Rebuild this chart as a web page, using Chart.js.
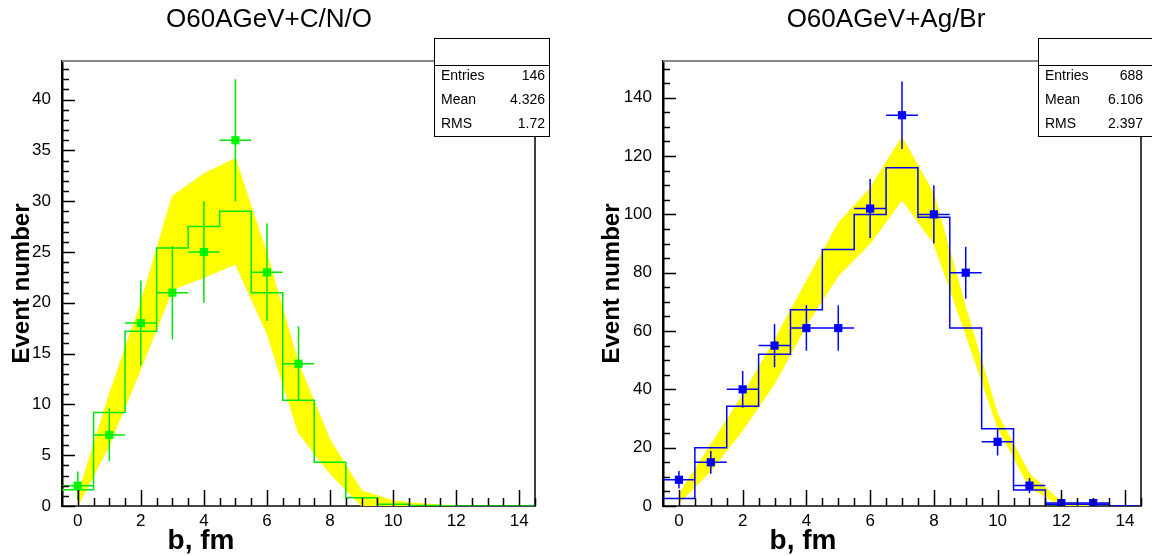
<!DOCTYPE html>
<html>
<head>
<meta charset="utf-8">
<script src="https://cdn.jsdelivr.net/npm/chart.js@4.4.0/dist/chart.umd.min.js"></script>
<style>
  body { margin: 0; background: #fff; }
  #wrap { display: flex; width: 1152px; height: 556px; }
  canvas { display: block; }
</style>
</head>
<body>
<div id="wrap">
  <canvas id="cno" width="576" height="556"></canvas>
  <canvas id="agbr" width="576" height="556"></canvas>
</div>
<script>
// impact parameter bins (fm)
const bins = [0, 1, 2, 3, 4, 5, 6, 7, 8, 9, 10, 11, 12, 13, 14];
const xTicks = [0, 2, 4, 6, 8, 10, 12, 14];

// O + C/N/O
const cnoTicks = [0, 5, 10, 15, 20, 25, 30, 35, 40];
const cnoPointB = [0, 1, 2, 3, 4, 5, 6, 7];
const cnoPoints = [2, 7, 18, 21, 25, 36, 23, 14];
const cnoErr = [1.4, 2.6, 4.2, 4.6, 5, 6, 4.8, 3.7];
const cnoHist = [1.6, 9.2, 17.2, 25.4, 27.5, 29.0, 21.0, 10.4, 4.3, 0.8, 0.17, 0.05, 0, 0, 0];
const cnoBandB = [0, 1, 2, 3, 4, 5, 6, 7, 8, 9, 10, 11, 12];
const cnoBandHi = [1, 11, 20, 30.5, 32.7, 34.2, 24.8, 14, 6.5, 1.5, 0.5, 0.2, 0];
const cnoBandLo = [0, 6, 13.5, 21.3, 22.5, 23.8, 17, 7.2, 3.2, 0, 0, 0, 0];

// O + Ag/Br
const agTicks = [0, 20, 40, 60, 80, 100, 120, 140];
const agPointB = [0, 1, 2, 3, 4, 5, 6, 7, 8, 9, 10, 11, 12, 13];
const agPoints = [9, 15, 40, 55, 61, 61, 102, 134, 100, 80, 22, 7, 1, 1];
const agErr = [3, 3.9, 6.3, 7.4, 7.8, 7.8, 10.1, 11.6, 10, 8.9, 4.7, 2.6, 1, 1];
const agHist = [2.6, 20, 34.2, 52, 67.3, 88, 100, 116, 99, 61, 26.5, 5.5, 0.6, 0.6, 0];
const agBandB = [0, 1, 2, 3, 4, 5, 6, 7, 8, 9, 10, 11, 12, 13];
const agBandHi = [4, 21, 38, 57, 77, 97, 109, 126.5, 107, 68, 31.5, 11, 1.5, 0];
const agBandLo = [1, 12, 26, 42, 62, 79, 90, 105, 90, 59, 27, 6.5, 0, 0];

const FONT = "'Liberation Sans', Arial, sans-serif";

function xy(xs, ys) {
  return xs.map((x, i) => ({ x: x, y: ys[i] }));
}

function drawPanel(id, p) {
  // bin edges for the step histogram
  const histPts = bins.map((b, i) => ({ x: b - 0.5, y: p.hist[i] }));
  histPts.push({ x: bins[bins.length - 1] + 0.5, y: p.hist[p.hist.length - 1] });

  const deco = {
    id: 'deco',
    afterDatasetsDraw(chart) {
      const ctx = chart.ctx;
      const a = chart.chartArea;
      const xs = chart.scales.x, ys = chart.scales.y;
      ctx.save();
      // error bars
      ctx.strokeStyle = p.color;
      ctx.lineWidth = 1.5;
      p.ptB.forEach((b, i) => {
        const px = xs.getPixelForValue(b), py = ys.getPixelForValue(p.pts[i]);
        ctx.beginPath();
        ctx.moveTo(px, ys.getPixelForValue(p.pts[i] - p.err[i]));
        ctx.lineTo(px, ys.getPixelForValue(p.pts[i] + p.err[i]));
        ctx.moveTo(xs.getPixelForValue(b - 0.5), py);
        ctx.lineTo(xs.getPixelForValue(b + 0.5), py);
        ctx.stroke();
      });
      // inner ticks
      ctx.strokeStyle = '#000';
      ctx.lineWidth = 1.5;
      ctx.beginPath();
      for (let v = 0; v <= ys.max + 1e-6; v += p.yMinor) {
        const y = Math.round(ys.getPixelForValue(v)) + 0.5;
        const len = p.yTicks.includes(v) ? 13 : 7;
        ctx.moveTo(a.left, y);
        ctx.lineTo(a.left + len, y);
      }
      for (let v = 0; v <= 14.5; v += 0.5) {
        const x = Math.round(xs.getPixelForValue(v)) + 0.5;
        const len = xTicks.includes(v) ? 16 : 8;
        ctx.moveTo(x, a.bottom);
        ctx.lineTo(x, a.bottom - len);
      }
      ctx.stroke();
      // frame
      ctx.strokeStyle = '#888';
      ctx.lineWidth = 2;
      ctx.beginPath();
      ctx.moveTo(a.left, a.top);
      ctx.lineTo(a.right, a.top);
      ctx.stroke();
      ctx.strokeStyle = '#000';
      ctx.lineWidth = 1.5;
      ctx.beginPath();
      ctx.moveTo(a.right, a.top);
      ctx.lineTo(a.right, a.bottom);
      ctx.stroke();
      ctx.restore();
    },
    afterDraw(chart) {
      const ctx = chart.ctx;
      const a = chart.chartArea;
      ctx.save();
      ctx.fillStyle = '#000';
      // title
      ctx.font = '26px ' + FONT;
      ctx.textAlign = 'center';
      ctx.textBaseline = 'middle';
      ctx.fillText(p.title, p.titleX, 20);
      // axis titles
      ctx.font = 'bold 28px ' + FONT;
      ctx.fillText('b, fm', p.xTitleX, 541);
      ctx.font = 'bold 24px ' + FONT;
      ctx.save();
      ctx.translate(p.yTitleX, (a.top + a.bottom) / 2);
      ctx.rotate(-Math.PI / 2);
      ctx.fillText('Event number', 0, 0);
      ctx.restore();
      // stats box
      const bx = p.box.x, by = 38, bw = p.box.w, bh = 98;
      ctx.fillStyle = '#fff';
      ctx.fillRect(bx, by, bw, bh);
      ctx.strokeStyle = '#000';
      ctx.lineWidth = 1;
      ctx.strokeRect(bx + 0.5, by + 0.5, bw, bh);
      ctx.beginPath();
      ctx.moveTo(bx, by + 27.5);
      ctx.lineTo(bx + bw, by + 27.5);
      ctx.stroke();
      ctx.fillStyle = '#000';
      ctx.font = '14px ' + FONT;
      p.stats.forEach((s, i) => {
        const y = by + 38 + i * 24;
        ctx.textAlign = 'left';
        ctx.fillText(s[0], bx + 7, y);
        ctx.textAlign = 'right';
        ctx.fillText(s[1], p.box.valX, y);
      });
      ctx.restore();
    }
  };

  new Chart(document.getElementById(id), {
    type: 'line',
    data: {
      datasets: [
        { data: xy(p.bandB, p.bandHi), fill: '+1', backgroundColor: '#ffff00',
          borderColor: '#ffff00', borderWidth: 1, pointRadius: 0, order: 3 },
        { data: xy(p.bandB, p.bandLo), fill: false,
          borderColor: '#ffff00', borderWidth: 1, pointRadius: 0, order: 3 },
        { data: histPts, stepped: 'before', fill: false, borderColor: p.color,
          borderWidth: 1.5, pointRadius: 0, order: 2 },
        { type: 'scatter', data: xy(p.ptB, p.pts), pointStyle: 'rect', pointRadius: 5.8,
          backgroundColor: p.marker, borderColor: p.marker, borderWidth: 0, order: 1 }
      ]
    },
    options: {
      responsive: false,
      animation: false,
      devicePixelRatio: 1,
      layout: { padding: { left: 0, right: p.padRight, top: 61, bottom: 0 } },
      plugins: { legend: { display: false }, tooltip: { enabled: false } },
      scales: {
        x: {
          type: 'linear', min: -0.5, max: 14.5,
          afterBuildTicks: s => { s.ticks = xTicks.map(v => ({ value: v })); },
          afterFit: s => { s.height = 50; },
          grid: { drawOnChartArea: false, drawTicks: false },
          border: { color: '#444', width: 2 },
          ticks: { padding: 5, color: '#000', font: { family: FONT, size: 17 }, maxRotation: 0 }
        },
        y: {
          type: 'linear', min: 0, max: p.yMax,
          afterBuildTicks: s => { s.ticks = p.yTicks.map(v => ({ value: v })); },
          afterFit: s => { s.width = p.left; },
          grid: { drawOnChartArea: false, drawTicks: false },
          border: { color: '#000', width: 2.5 },
          ticks: { padding: 11, color: '#000', font: { family: FONT, size: 17 } }
        }
      }
    },
    plugins: [deco]
  });
}

drawPanel('cno', {
  title: 'O60AGeV+C/N/O', titleX: 269, xTitleX: 201, yTitleX: 22,
  left: 62, padRight: 41, yMax: 43.8, yTicks: cnoTicks, yMinor: 1,
  color: '#00e600', marker: '#00ff00',
  hist: cnoHist, ptB: cnoPointB, pts: cnoPoints, err: cnoErr,
  bandB: cnoBandB, bandHi: cnoBandHi, bandLo: cnoBandLo,
  box: { x: 434, w: 115, valX: 545 },
  stats: [['Entries', '146'], ['Mean', '4.326'], ['RMS', '1.72']]
});

drawPanel('agbr', {
  title: 'O60AGeV+Ag/Br', titleX: 310, xTitleX: 227, yTitleX: 36,
  left: 87, padRight: 11, yMax: 152.6, yTicks: agTicks, yMinor: 5,
  color: '#0000ff', marker: '#0000ff',
  hist: agHist, ptB: agPointB, pts: agPoints, err: agErr,
  bandB: agBandB, bandHi: agBandHi, bandLo: agBandLo,
  box: { x: 462, w: 120, valX: 567 },
  stats: [['Entries', '688'], ['Mean', '6.106'], ['RMS', '2.397']]
});
</script>
</body>
</html>
